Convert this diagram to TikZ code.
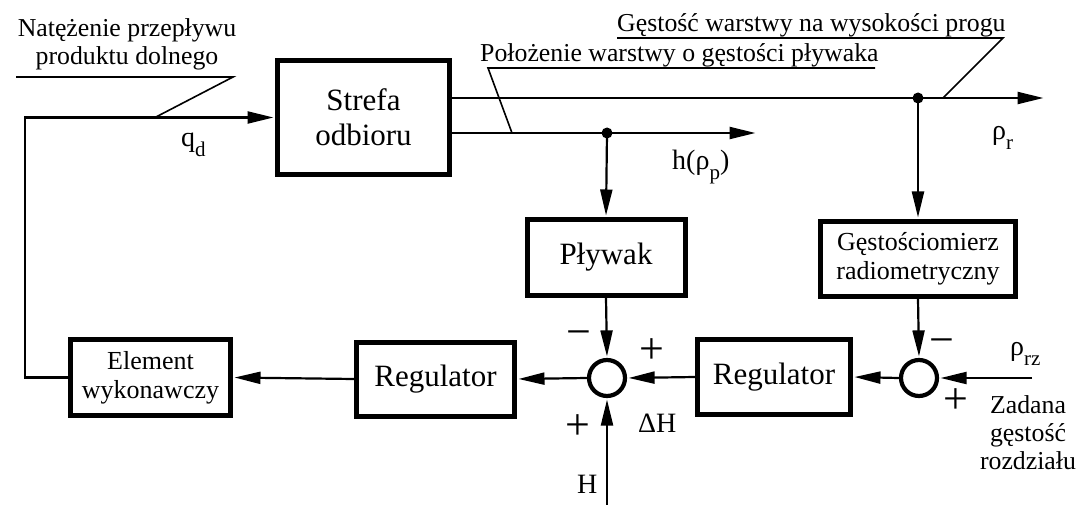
\documentclass[tikz,border=0pt]{standalone}
\usepackage{fontspec}
\setmainfont{Liberation Serif}
\usetikzlibrary{arrows.meta}
\newcommand{\sbs}[1]{\raisebox{-10pt}{\fontsize{21}{21}\selectfont #1}}
\begin{document}
\begin{tikzpicture}[x=1pt,y=-1pt,
  blk/.style={draw, line width=5pt, inner sep=0pt, align=center, font=\fontsize{31}{35}\selectfont},
  sblk/.style={blk, font=\fontsize{26}{29}\selectfont},
  sum/.style={draw, circle, line width=4.2pt, minimum size=36pt, inner sep=0pt},
  lbl/.style={font=\fontsize{25.8}{29}\selectfont, anchor=base, inner sep=0pt},
  sym/.style={font=\fontsize{28}{28}\selectfont, anchor=base west, inner sep=0pt},
  sgn/.style={font=\fontsize{44}{44}\selectfont, anchor=base, inner sep=0pt},
  ln/.style={line width=2.2pt},
  conn/.style={ln, -{Triangle[length=26pt,width=12pt]}, shorten >=1.5pt},
  ldr/.style={line width=1.6pt},
  dot/.style={fill=black}]
\useasboundingbox (0,0) rectangle (1089,505);

% blocks
\node[blk, minimum width=172pt, minimum height=114pt] (strefa) at (363.5,117.5) {Strefa\\odbioru};
\node[blk, minimum width=158pt, minimum height=76pt] (plyw) at (606,257.5) {Pływak};
\node[sblk, minimum width=195pt, minimum height=75pt] (gest) at (918,259) {Gęstościomierz\\radiometryczny};
\node[blk, minimum width=153pt, minimum height=75pt] (reg2) at (774,377) {Regulator};
\node[blk, minimum width=158pt, minimum height=74pt] (reg1) at (435.5,379) {Regulator};
\node[sblk, minimum width=160pt, minimum height=76pt] (elem) at (150.5,377.5) {Element\\wykonawczy};
\node[sum] (j1) at (607,378) {};
\node[sum] (j2) at (919,378) {};

% coordinates
\coordinate (fbk) at (25,0);
\coordinate (rr) at (1045,98);
\coordinate (hh) at (757,133);
\coordinate (d1) at (918,98);
\coordinate (d2) at (607,133);
\coordinate (rz) at (1032,378);
\coordinate (Hin) at (607,505);

% connectors
\draw[conn] (elem.west) -| (fbk |- strefa.west) -- (strefa.west);
\draw[conn] (strefa.east |- rr) -- (rr);
\draw[conn] (strefa.east |- hh) -- (hh);
\fill[dot] (d1) circle (5.5pt);
\fill[dot] (d2) circle (5.5pt);
\draw[conn] (d1) -- (gest.north);
\draw[conn] (d2) -- (plyw.north);
\draw[conn] (plyw.south) -- (j1.north);
\draw[conn] (gest.south) -- (j2.north);
\draw[conn] (rz) -- (j2.east);
\draw[conn] (j2.west) -- (reg2.east);
\draw[conn] (reg2.west) -- (j1.east);
\draw[conn] (j1.west) -- (reg1.east);
\draw[conn] (reg1.west) -- (elem.east);
\draw[conn] (Hin) -- (j1.south);

% annotation labels with leaders
\node[lbl] (tn1) at (127,37) {Natężenie przepływu};
\node[lbl] (tn2) at (127,65) {produktu dolnego};
\coordinate (n1) at (16,77); \coordinate (n2) at (233,77); \coordinate (n3) at (155,117.5);
\draw[ldr] (n1) -- (n2) -- (n3);

\node[lbl, anchor=base west] (tp) at (480,62) {Położenie warstwy o gęstości pływaka};
\coordinate (p1) at (875,68); \coordinate (p2) at (488,68); \coordinate (p3) at (512,133);
\draw[ldr] (p1) -- (p2) -- (p3);

\node[lbl, anchor=base west] (tg) at (617,32) {Gęstość warstwy na wysokości progu};
\coordinate (g1) at (617,38); \coordinate (g2) at (1003,38); \coordinate (g3) at (943,98);
\draw[ldr] (g1) -- (g2) -- (g3);

% signal symbols
\node[sym] (qd) at (181,147) {q\sbs{d}};
\node[sym] (hp) at (672,170) {h(ρ\sbs{p})};
\node[sym] (rhor) at (992,140) {ρ\sbs{r}};
\node[sym] (rhorz) at (1010,355) {ρ\sbs{rz}};
\node[sym] (dH) at (638,432) {ΔH};
\node[sym] (Hl) at (577,493) {H};

\node[lbl] (z1) at (1028,413) {Zadana};
\node[lbl] (z2) at (1028,441) {gęstość};
\node[lbl] (z3) at (1028,469) {rozdziału};

% signs
\node[sgn] (s1) at (579,346) {−};
\node[sgn] (s2) at (652,363) {+};
\node[sgn] (s3) at (578,439) {+};
\node[sgn] (s4) at (942,354) {−};
\node[sgn] (s5) at (956,413) {+};
\end{tikzpicture}
\end{document}
